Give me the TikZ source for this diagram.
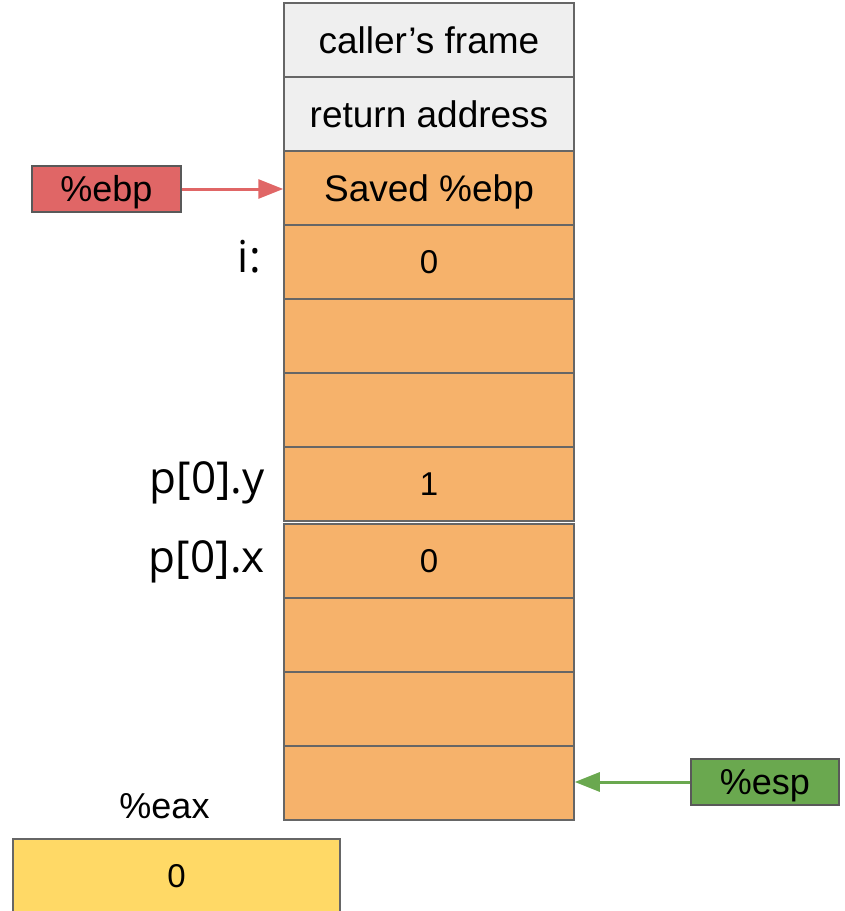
\documentclass[tikz,border=0pt]{standalone}
\usepackage{fontspec}
\setmainfont{Liberation Sans}
\newfontfamily\varfont{Open Sans}
\usetikzlibrary{arrows.meta}

\definecolor{framegray}{HTML}{EFEFEF}
\definecolor{slotorange}{HTML}{F6B26B}
\definecolor{edgegray}{HTML}{666666}
\definecolor{boxedge}{HTML}{595959}
\definecolor{ebpred}{HTML}{E06666}
\definecolor{espgreen}{HTML}{6AA84F}
\definecolor{eaxyellow}{HTML}{FFD966}

\begin{document}
\begin{tikzpicture}[x=1pt, y=-1pt,
  slot/.style={draw=edgegray, line width=1.5pt, fill=slotorange,
    minimum width=290pt, minimum height=74pt, inner sep=0pt,
    font=\fontsize{37}{40}\selectfont, text height=26.5pt, text depth=0pt},
  valfont/.style={font=\fontsize{33}{36}\selectfont, text height=23.6pt, text depth=0pt},
  regbox/.style={draw=boxedge, line width=1.3pt, minimum width=148pt,
    minimum height=46pt, inner sep=0pt,
    font=\fontsize{36}{40}\selectfont, text height=25.8pt, text depth=0pt},
  varname/.style={inner sep=0pt, anchor=east,
    font=\varfont\fontsize{44}{48}\selectfont, text height=31.4pt, text depth=0pt},
  ptr/.style={line width=3pt, -{Triangle[length=25pt, width=19pt]}},
]
\useasboundingbox (0,0) rectangle (845,911);

% stack slots, highest address on top
\node[slot, fill=framegray] (c1) at (429,40) {caller’s frame};
\node[slot, fill=framegray] (c2) at (429,114) {return address\hspace{14pt}};
\node[slot] (c3) at (429,188) {Saved \%ebp};
\node[slot, valfont] (c4) at (429,262) {0};
\node[slot] (c5) at (429,336) {};
\node[slot] (c6) at (429,410) {};
\node[slot, valfont] (c7) at (429,484) {1};
\node[slot, valfont] (c8) at (429,561) {0};
\node[slot] (c9) at (429,635) {};
\node[slot] (c10) at (429,709) {};
\node[slot] (c11) at (429,783) {};

% local variable names
\node[varname] (vi) at (261,257) {i:};
\node[varname] (vpy) at (265,477.5) {p[0].y};
\node[varname] (vpx) at (265,557) {p[0].x};

% registers
\node[regbox, fill=ebpred, minimum width=149pt] (ebp) at (106.5,189) {\%ebp\hspace{16pt}};
\node[regbox, fill=espgreen] (esp) at (765,782) {\%esp\hspace{17pt}};
\draw[ptr, ebpred] (ebp.east) -- (ebp.east -| c3.west);
\draw[ptr, espgreen] (esp.west) -- (esp.west -| c11.east);

% return value register
\node[inner sep=0pt, font=\fontsize{36}{40}\selectfont, text height=25.8pt, text depth=0pt]
  (eaxname) at (164.5,805.5) {\%eax};
\node[draw=edgegray, line width=1.5pt, fill=eaxyellow, minimum width=327pt,
  minimum height=74pt, inner sep=0pt, valfont] (eax) at (176.5,876) {0};
\end{tikzpicture}
\end{document}
